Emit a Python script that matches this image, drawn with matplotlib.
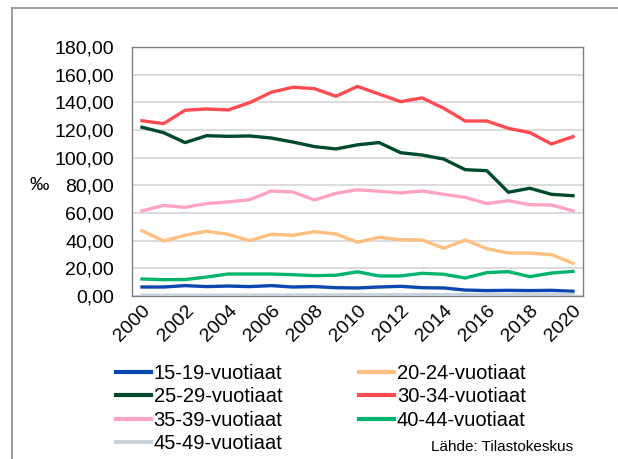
import matplotlib
matplotlib.use("Agg")
import matplotlib.pyplot as plt
from matplotlib.lines import Line2D

years = list(range(2000, 2021))
labels = ["15-19-vuotiaat", "20-24-vuotiaat", "25-29-vuotiaat", "30-34-vuotiaat",
          "35-39-vuotiaat", "40-44-vuotiaat", "45-49-vuotiaat"]
v15_19 = [6.5, 6.5, 7.5, 6.8, 7.2, 6.8, 7.5, 6.5, 6.8, 6.0, 5.8, 6.5, 7.0, 6.0, 5.8, 4.3, 3.9, 4.1, 3.9, 4.1, 3.4]
v20_24 = [47.2, 39.8, 43.9, 46.8, 44.6, 40.0, 44.6, 43.9, 46.5, 44.8, 38.9, 42.4, 40.7, 40.5, 34.5, 40.5, 34.2, 31.1, 31.0, 29.9, 23.6]
v25_29 = [122.0, 118.1, 110.9, 115.9, 115.4, 115.7, 114.2, 111.3, 108.0, 106.3, 109.3, 110.9, 103.6, 101.9, 99.0, 91.3, 90.6, 75.0, 77.9, 73.5, 72.5]
v30_34 = [126.7, 124.6, 134.3, 135.2, 134.5, 139.8, 147.3, 150.9, 149.9, 144.4, 151.5, 146.0, 140.5, 143.2, 135.7, 126.5, 126.5, 121.2, 118.1, 109.9, 115.2]
v35_39 = [61.5, 65.5, 64.1, 66.8, 68.0, 69.6, 75.9, 75.2, 69.4, 74.2, 76.8, 75.7, 74.5, 75.9, 73.5, 71.3, 66.8, 68.9, 66.0, 65.8, 61.5]
v40_44 = [12.3, 11.8, 11.9, 13.7, 15.9, 15.9, 15.9, 15.4, 14.7, 15.0, 17.5, 14.5, 14.5, 16.4, 15.7, 13.0, 16.9, 17.6, 14.0, 16.6, 17.8]
v45_49 = [0.6, 0.6, 0.6, 0.6, 0.7, 0.7, 0.7, 0.8, 0.8, 0.8, 0.9, 0.9, 0.9, 1.0, 1.0, 1.0, 1.0, 1.1, 1.2, 1.4, 1.2]
yticks = [0, 20, 40, 60, 80, 100, 120, 140, 160, 180]
xticks = list(range(2000, 2021, 2))

series = [v15_19, v20_24, v25_29, v30_34, v35_39, v40_44, v45_49]
colors = ["#0a47b0", "#ffbf80", "#004a2c", "#ff4b52", "#ffa3c6", "#00b46e", "#c9d3dc"]

plt.rcParams['font.family'] = ['Liberation Sans', 'DejaVu Sans']

fig = plt.figure(figsize=(6.18, 4.59), dpi=100)
ax = fig.add_axes([132/618, 1-296/459, 451/618, 249/459])

handles = []
for vals, c, lab in zip(series, colors, labels):
    h, = ax.plot(years, vals, color=c, lw=2.4, label=lab, solid_joinstyle='round', zorder=3)
    handles.append(h)

ax.set_ylim(0, 180)
ax.set_xlim(2000 - 10.0/21.55, 2020 + 10.0/21.55)
ax.set_yticks(yticks)
ax.set_yticklabels([f"{v:.2f}".replace(".", ",") for v in yticks], fontsize=14)
ax.set_xticks(xticks)
ax.set_xticklabels([str(x) for x in xticks], fontsize=14, rotation=45,
                   ha='right', va='top', rotation_mode='anchor')
ax.tick_params(axis='both', length=0)
ax.tick_params(axis='y', pad=13)
ax.tick_params(axis='x', pad=4)
ax.grid(axis='y', color='#d9d9d9', lw=1.3, zorder=0)
ax.set_axisbelow(True)
for s in ax.spines.values():
    s.set_color('#7f7f7f')
    s.set_linewidth(1.0)

fig.text(30/618, 1-185/459, "‰", fontsize=14, ha='left', va='center')

order = [0, 2, 4, 6, 1, 3, 5]
leg = fig.legend([handles[i] for i in order], [labels[i] for i in order],
                 ncol=2, loc='upper left', bbox_to_anchor=(116/618, 1-364/459),
                 frameon=False, fontsize=14.5, handlelength=1.75, handletextpad=0.12,
                 labelspacing=0.22, columnspacing=3.8, borderaxespad=0, borderpad=0)
for lh in leg.get_lines():
    lh.set_linewidth(3)

fig.text(573/618, 1-447/459, "Lähde: Tilastokeskus", fontsize=11, ha='right', va='center')

fig.add_artist(Line2D([12/618, 12/618], [0, 1-8/459], transform=fig.transFigure,
                      color='#8c8c8c', lw=1.2))
fig.add_artist(Line2D([12/618, 1], [1-8/459, 1-8/459], transform=fig.transFigure,
                      color='#8c8c8c', lw=1.2))

fig.savefig("out.png", dpi=100)
